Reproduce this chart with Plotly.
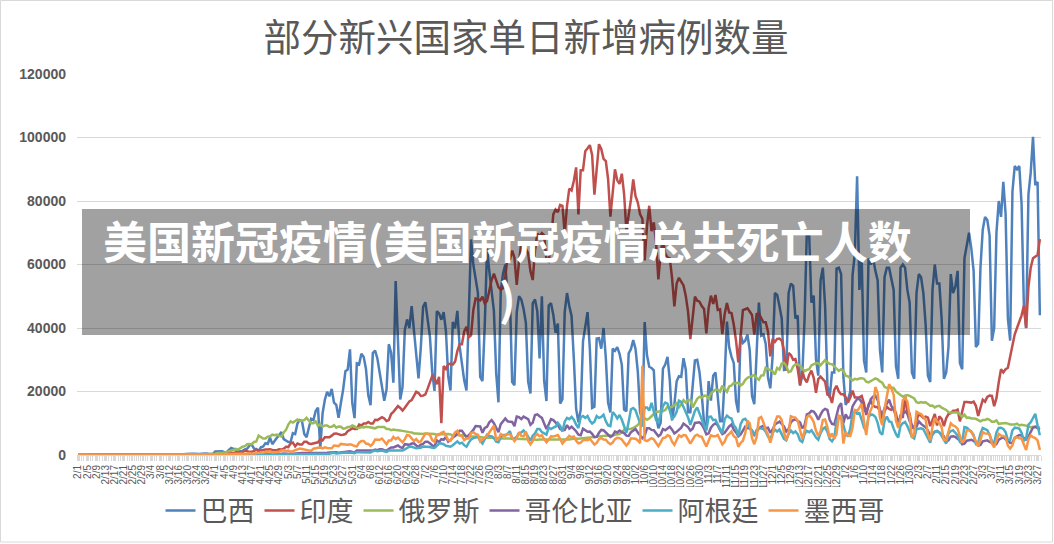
import datetime as dt
import plotly.graph_objects as go

# ---------------- data (daily new cases, in thousands) ----------------
start_date = dt.date(2020, 2, 1)
n_days = 422
dates = [start_date + dt.timedelta(days=i) for i in range(n_days)]
date_labels = [f"{d.month}/{d.day}" for d in dates]
tick_positions = list(range(0, n_days, 4))
tick_labels = [date_labels[i] for i in tick_positions]

series_names = ["巴西", "印度", "俄罗斯", "哥伦比亚", "阿根廷", "墨西哥"]
series_colors = ["#4F81BD", "#C0504D", "#9BBB59", "#8064A2", "#4BACC6", "#F79646"]

brazil_k = [
    0, 0, 0, 0, 0, 0, 0,
    0, 0, 0, 0, 0, 0, 0,
    0, 0, 0, 0, 0, 0, 0,
    0, 0, 0, 0, 0, 0, 0,
    0, 0, 0, 0, 0, 0, 0,
    0, 0, 0, 0, 0, 0, 0.1,
    0.1, 0, 0.1, 0.1, 0.2, 0.3, 0.4,
    0.3, 0.4, 0.4, 0.3, 0.3, 0.4, 0.5,
    0.5, 0.4, 0.3, 0.3, 1.1, 1.1, 1.1,
    1.2, 0.9, 0.9, 1.6, 2.2, 1.9, 1.9,
    1.1, 1.3, 1.3, 1.8, 2.0, 3.0, 3.3,
    2.0, 1.9, 1.3, 2.4, 2.7, 3.7, 3.5,
    5.5, 3.4, 4.6, 5.4, 6.3, 7.2, 5.0,
    4.6, 4.1, 4.1, 6.9, 6.6, 9.9, 11.0,
    10.6, 6.6, 5.6, 8.6, 11.4, 11.0, 13.9,
    14.9, 2.0, 13.1, 17.4, 19.9, 18.5, 20.8,
    16.5, 15.8, 11.7, 16.3, 20.6, 26.4, 26.9,
    33.3, 16.4, 11.6, 28.9, 28.6, 31.9, 30.9,
    27.1, 18.9, 15.7, 32.1, 32.9, 30.4, 25.9,
    21.7, 17.1, 20.6, 34.9, 32.2, 22.8, 54.8,
    34.7, 17.5, 21.4, 39.4, 42.7, 40.0, 46.9,
    38.7, 30.5, 24.1, 33.8, 46.7, 48.1, 42.2,
    37.3, 26.1, 20.2, 45.3, 44.6, 42.6, 45.0,
    39.0, 24.8, 20.3, 41.9, 39.9, 45.4, 34.2,
    28.5, 23.5, 20.3, 41.0, 67.9, 59.9, 55.9,
    51.1, 24.6, 23.3, 41.0, 65.0, 57.8, 52.4,
    45.4, 25.8, 16.6, 51.6, 57.2, 60.0, 50.2,
    49.9, 23.0, 22.0, 45.0, 50.0, 49.0, 46.0,
    41.6, 23.1, 19.4, 47.8, 49.0, 45.3, 30.4,
    50.0, 23.4, 17.0, 47.1, 47.8, 44.2, 38.5,
    41.4, 16.2, 17.6, 45.0, 51.0, 46.9, 43.8,
    30.2, 14.5, 10.3, 14.3, 35.8, 40.6, 45.0,
    33.5, 14.8, 15.2, 36.7, 36.8, 33.5, 40.0,
    30.5, 16.4, 13.4, 33.5, 32.8, 34.0, 31.9,
    28.4, 14.3, 13.8, 32.0, 33.4, 36.2, 33.4,
    26.3, 13.4, 11.6, 41.9, 31.5, 27.8, 27.4,
    26.7, 12.3, 8.4, 10.2, 27.2, 28.5, 30.9,
    23.5, 10.9, 15.8, 23.2, 24.8, 24.6, 30.5,
    26.9, 13.5, 13.5, 21.7, 29.8, 30.0, 26.1,
    18.9, 10.1, 8.5, 23.3, 17.1, 25.0, 26.0,
    19.0, 10.6, 10.6, 24.0, 42.0, 33.9, 31.0,
    29.0, 17.0, 13.4, 38.0, 35.3, 36.0, 37.9,
    33.0, 18.6, 16.0, 31.1, 48.0, 37.6, 38.0,
    35.0, 24.4, 21.0, 31.0, 51.0, 50.4, 46.9,
    43.0, 26.8, 27.0, 51.0, 54.0, 53.3, 43.0,
    43.9, 21.8, 25.0, 42.9, 70.6, 69.8, 48.0,
    50.2, 30.0, 25.0, 55.0, 59.0, 46.7, 22.0,
    18.0, 26.0, 26.0, 58.7, 59.0, 57.0, 24.5,
    15.8, 17.3, 20.0, 56.6, 63.4, 87.8, 52.0,
    62.0, 29.8, 26.0, 61.9, 60.0, 62.0, 58.0,
    55.0, 33.0, 26.0, 56.0, 59.0, 59.0, 56.0,
    52.0, 28.0, 24.0, 59.0, 60.0, 59.0, 52.0,
    48.0, 26.0, 24.0, 51.0, 57.0, 56.0, 51.0,
    41.0, 25.0, 23.0, 52.0, 60.0, 54.0, 54.0,
    43.0, 24.0, 26.0, 34.0, 57.0, 51.0, 53.0,
    58.0, 29.0, 27.0, 62.0, 66.0, 70.0, 65.0,
    58.0, 34.0, 35.0, 59.0, 71.0, 75.0, 74.0,
    69.0, 36.0, 40.0, 70.0, 80.0, 75.0, 86.0,
    76.0, 43.0, 36.0, 83.0, 91.0, 90.0, 91.0,
    79.0, 47.0, 40.0, 82.0, 89.0, 100.2, 85.0,
    86.0, 44.0,
]

india_k = [
    0, 0, 0, 0, 0, 0, 0,
    0, 0, 0, 0, 0, 0, 0,
    0, 0, 0, 0, 0, 0, 0,
    0, 0, 0, 0, 0, 0, 0,
    0, 0, 0, 0, 0, 0, 0,
    0, 0, 0, 0, 0, 0, 0,
    0, 0, 0, 0, 0, 0, 0.1,
    0.1, 0.1, 0.1, 0.1, 0.1, 0.1, 0.2,
    0.2, 0.1, 0.2, 0.3, 0.4, 0.5, 0.5,
    0.6, 0.5, 0.7, 0.6, 0.8, 0.6, 0.9,
    0.9, 0.8, 0.9, 1.4, 1.1, 1.0, 1.0,
    1.4, 1.6, 1.3, 1.5, 1.5, 1.7, 1.7,
    1.8, 1.6, 1.6, 1.5, 1.8, 1.7, 2.0,
    2.6, 2.5, 3.6, 3.9, 2.7, 3.6, 3.3,
    3.3, 4.2, 4.2, 3.6, 3.5, 3.7, 3.9,
    4.0, 5.0, 4.6, 5.6, 5.6, 5.6, 6.1,
    6.7, 6.8, 6.5, 6.3, 6.4, 6.6, 7.5,
    7.9, 8.4, 8.2, 8.2, 9.6, 9.3, 9.9,
    9.9, 10.4, 9.9, 9.9, 11.1, 11.0, 11.5,
    11.9, 11.5, 10.7, 11.0, 12.9, 13.6, 14.5,
    15.4, 14.8, 14.0, 14.9, 15.9, 16.9, 17.3,
    18.5, 19.9, 19.5, 18.6, 18.7, 19.1, 20.9,
    22.8, 24.9, 24.2, 22.3, 24.6, 10.0, 28.0,
    27.1, 28.6, 28.7, 28.5, 29.4, 32.7, 34.9,
    34.9, 38.9, 40.4, 37.1, 37.7, 45.7, 49.3,
    48.9, 48.7, 49.9, 47.7, 48.5, 52.1, 55.1,
    57.1, 54.7, 52.9, 52.1, 52.5, 56.3, 62.5,
    61.5, 64.4, 62.1, 53.6, 60.9, 66.9, 64.6,
    65.0, 63.5, 57.9, 55.1, 64.5, 69.7, 68.9,
    69.9, 69.2, 61.4, 60.9, 67.2, 75.8, 77.3,
    76.5, 78.8, 78.5, 69.9, 78.4, 83.9, 83.3,
    86.4, 90.6, 75.8, 89.7, 89.7, 95.7, 96.6,
    97.6, 94.5, 82.0, 90.0, 97.9, 96.4, 93.3,
    92.6, 86.9, 75.1, 83.3, 90.0, 86.5, 85.4,
    88.6, 82.2, 70.6, 75.0, 80.5, 86.8, 81.5,
    79.5, 75.8, 74.4, 61.3, 72.0, 78.5, 70.5,
    73.3, 66.7, 55.3, 63.5, 67.7, 63.4, 62.2,
    61.9, 55.7, 46.8, 54.0, 55.8, 54.4, 53.4,
    50.1, 45.1, 36.5, 43.9, 49.9, 48.6, 48.3,
    46.9, 46.0, 38.3, 46.3, 50.2, 47.6, 50.4,
    45.7, 45.9, 38.1, 44.3, 47.9, 44.9, 44.7,
    41.1, 36.0, 29.2, 38.6, 45.6, 45.9, 46.2,
    45.2, 44.1, 37.9, 44.4, 44.5, 43.1, 41.8,
    41.8, 38.8, 31.1, 36.6, 35.6, 36.6, 36.7,
    36.0, 32.9, 26.6, 32.1, 31.5, 30.0, 30.2,
    27.1, 22.1, 26.4, 24.0, 22.9, 25.2, 26.6,
    24.3, 19.6, 23.9, 24.7, 24.0, 23.1, 19.0,
    18.7, 16.4, 20.5, 21.8, 20.0, 19.1, 19.1,
    18.2, 16.5, 18.1, 20.3, 18.1, 18.1, 18.2,
    18.6, 16.3, 12.6, 15.9, 16.9, 15.6, 15.1,
    15.1, 13.8, 10.1, 13.8, 15.2, 14.5, 14.2,
    14.8, 13.2, 9.1, 12.7, 11.7, 18.9, 13.1,
    13.0, 8.6, 8.6, 11.0, 12.9, 12.4, 11.7,
    12.1, 11.8, 9.1, 11.1, 12.9, 9.3, 12.2,
    11.4, 9.1, 11.6, 12.9, 13.2, 13.9, 13.9,
    14.3, 10.6, 13.7, 16.7, 16.7, 16.6, 16.5,
    16.8, 15.5, 12.3, 14.9, 17.4, 16.8, 18.3,
    18.7, 18.6, 15.4, 17.9, 22.9, 27.0, 26.0,
    27.0, 27.5, 31.0, 35.0, 38.0, 40.0, 42.0,
    44.0, 47.0, 40.0, 53.0, 59.0, 62.0, 62.5,
    63.0, 68.0,
]

russia_k = [
    0, 0, 0, 0, 0, 0, 0,
    0, 0, 0, 0, 0, 0, 0,
    0, 0, 0, 0, 0, 0, 0,
    0, 0, 0, 0, 0, 0, 0,
    0, 0, 0, 0, 0, 0, 0,
    0, 0, 0, 0, 0, 0, 0,
    0, 0, 0, 0, 0, 0, 0.1,
    0.1, 0.1, 0.1, 0.1, 0.2, 0.2, 0.2,
    0.2, 0.3, 0.3, 0.5, 0.4, 0.6, 0.6,
    0.6, 0.7, 1.0, 1.2, 1.2, 1.5, 1.8,
    1.7, 2.2, 2.6, 2.8, 3.4, 3.5, 3.4,
    4.1, 4.3, 6.1, 5.6, 5.2, 5.2, 5.8,
    5.9, 6.4, 6.2, 6.4, 6.0, 5.8, 7.1,
    7.9, 9.6, 10.6, 10.2, 10.6, 11.2, 10.7,
    10.8, 11.0, 11.7, 10.9, 10.0, 10.0, 10.6,
    9.2, 9.7, 8.9, 9.3, 9.3, 8.8, 8.9,
    9.4, 8.6, 9.0, 8.9, 8.3, 8.4, 8.8,
    8.9, 9.3, 9.0, 8.5, 8.5, 8.8, 8.7,
    8.9, 8.8, 8.6, 8.6, 8.4, 8.8, 8.8,
    8.7, 8.8, 8.2, 8.2, 7.8, 8.0, 7.9,
    7.9, 7.7, 7.6, 7.4, 7.2, 7.2, 7.1,
    6.8, 6.8, 6.7, 6.6, 6.6, 6.8, 6.8,
    6.6, 6.7, 6.6, 6.4, 6.6, 6.5, 6.6,
    6.6, 6.6, 6.5, 6.2, 6.4, 6.4, 6.4,
    6.2, 6.1, 5.9, 5.8, 5.8, 5.9, 5.8,
    5.8, 5.6, 5.6, 5.4, 5.5, 5.5, 5.4,
    5.5, 5.4, 5.3, 5.2, 5.1, 5.2, 5.2,
    5.2, 5.1, 5.1, 5.0, 5.1, 5.1, 5.1,
    5.1, 5.0, 4.9, 4.8, 4.8, 4.8, 4.9,
    4.9, 4.9, 4.9, 4.7, 4.7, 4.7, 4.7,
    4.9, 4.9, 4.7, 4.7, 4.7, 4.9, 5.0,
    5.2, 5.2, 5.1, 5.2, 5.3, 5.4, 5.4,
    5.4, 5.5, 5.6, 5.8, 5.9, 5.9, 6.1,
    6.1, 6.1, 6.1, 6.2, 6.4, 6.6, 6.6,
    7.2, 7.9, 8.1, 8.1, 8.3, 8.5, 8.9,
    9.4, 10.5, 10.9, 11.6, 11.1, 11.5, 12.1,
    12.8, 13.6, 13.6, 13.9, 13.8, 14.2, 15.2,
    15.0, 15.2, 15.7, 16.3, 15.0, 15.9, 17.3,
    16.5, 17.3, 17.3, 15.0, 16.2, 17.7, 18.3,
    18.1, 18.7, 18.6, 17.7, 19.4, 20.0, 20.6,
    20.5, 20.0, 21.8, 20.9, 19.9, 21.6, 21.9,
    22.7, 22.6, 22.8, 21.9, 22.4, 23.6, 24.3,
    24.6, 24.8, 25.2, 24.3, 23.7, 25.0, 25.1,
    27.5, 27.0, 26.7, 26.4, 25.3, 27.4, 26.9,
    28.8, 29.0, 28.1, 26.1, 26.4, 27.9, 28.6,
    28.5, 28.1, 27.3, 26.4, 26.8, 27.0, 28.2,
    28.5, 29.0, 28.9, 28.3, 29.1, 29.9, 29.2,
    28.7, 28.6, 28.0, 27.2, 26.5, 27.0, 26.5,
    25.0, 24.8, 24.2, 23.5, 24.0, 23.8, 24.1,
    24.2, 24.0, 23.1, 22.9, 23.4, 23.7, 24.1,
    23.8, 23.2, 22.8, 21.5, 21.1, 21.3, 21.2,
    21.1, 20.0, 19.3, 18.9, 18.4, 18.7, 18.9,
    18.6, 18.3, 17.8, 16.6, 16.4, 16.7, 16.5,
    16.6, 16.1, 15.5, 15.6, 15.0, 15.4, 15.5,
    14.9, 14.6, 14.2, 13.5, 13.3, 13.4, 13.5,
    13.4, 12.8, 12.0, 12.7, 11.7, 11.8, 11.5,
    11.5, 11.4, 11.0, 10.6, 11.0, 11.0, 11.4,
    11.1, 10.5, 10.5, 10.9, 9.8, 9.9, 10.0,
    10.1, 9.9, 9.6, 9.6, 9.6, 9.9, 9.3,
    9.5, 9.4, 9.3, 9.1, 8.7, 8.9, 8.8,
    8.9, 8.6,
]

colombia_k = [
    0, 0, 0, 0, 0, 0, 0,
    0, 0, 0, 0, 0, 0, 0,
    0, 0, 0, 0, 0, 0, 0,
    0, 0, 0, 0, 0, 0, 0,
    0, 0, 0, 0, 0, 0, 0,
    0, 0, 0, 0, 0, 0, 0,
    0, 0, 0, 0, 0, 0, 0,
    0, 0, 0, 0, 0, 0, 0.1,
    0.1, 0.1, 0.1, 0.1, 0.1, 0.1, 0.1,
    0.1, 0.1, 0.1, 0.1, 0.2, 0.1, 0.2,
    0.1, 0.1, 0.1, 0.1, 0.2, 0.2, 0.2,
    0.2, 0.2, 0.2, 0.2, 0.3, 0.2, 0.3,
    0.3, 0.3, 0.2, 0.3, 0.3, 0.4, 0.5,
    0.4, 0.4, 0.3, 0.4, 0.5, 0.5, 0.6,
    0.6, 0.6, 0.5, 0.6, 0.6, 0.6, 0.6,
    0.5, 0.6, 0.6, 0.7, 0.7, 0.8, 0.9,
    0.8, 0.9, 0.7, 0.8, 0.9, 1.1, 1.3,
    1.2, 1.0, 0.8, 1.4, 1.4, 1.5, 1.4,
    1.4, 1.3, 1.3, 1.4, 1.7, 1.5, 1.8,
    1.8, 1.5, 1.4, 1.9, 2.4, 2.4, 2.6,
    3.0, 2.5, 2.2, 3.4, 3.2, 3.2, 3.6,
    3.7, 3.0, 2.6, 3.3, 3.5, 4.2, 4.2,
    3.7, 3.0, 2.7, 4.6, 4.0, 5.0, 4.8,
    5.7, 4.2, 4.7, 5.5, 6.0, 6.8, 7.6,
    7.6, 6.6, 5.6, 6.2, 7.0, 7.9, 9.1,
    9.1, 9.0, 7.0, 8.5, 8.9, 10.3, 11.0,
    10.0, 8.6, 7.2, 9.7, 10.5, 11.5, 10.6,
    10.5, 10.4, 9.1, 12.1, 11.9, 11.3, 12.1,
    11.7, 11.3, 9.5, 10.2, 12.6, 12.8, 12.2,
    11.7, 9.9, 8.2, 9.7, 11.3, 11.0, 10.4,
    9.5, 8.2, 7.9, 7.9, 9.4, 8.3, 8.9,
    8.2, 7.5, 6.4, 6.2, 8.3, 7.8, 7.3,
    7.4, 6.7, 5.6, 5.7, 7.0, 7.9, 7.8,
    7.0, 6.4, 5.7, 6.1, 7.4, 7.1, 7.7,
    7.2, 6.9, 6.1, 6.0, 7.2, 7.6, 8.2,
    7.1, 6.3, 5.3, 6.0, 8.4, 8.4, 7.9,
    7.8, 7.0, 5.9, 6.5, 8.2, 7.8, 8.5,
    8.9, 8.0, 6.8, 7.3, 8.0, 8.6, 9.9,
    9.3, 8.8, 7.7, 8.3, 10.1, 10.1, 10.3,
    9.6, 8.3, 6.5, 6.8, 8.6, 9.5, 10.0,
    9.3, 7.8, 6.6, 7.0, 8.2, 9.0, 9.6,
    8.0, 7.1, 5.9, 6.5, 7.8, 8.9, 8.5,
    8.3, 7.6, 6.3, 7.2, 8.4, 8.9, 9.2,
    8.4, 8.6, 7.0, 8.0, 9.6, 10.0, 10.5,
    9.8, 9.0, 7.4, 8.2, 10.3, 11.0, 11.2,
    10.6, 10.3, 8.4, 9.4, 12.8, 13.1, 13.9,
    13.7, 12.7, 11.1, 12.7, 14.0, 14.5, 14.2,
    11.1, 9.8, 9.6, 13.0, 15.3, 16.3, 10.0,
    12.8, 11.6, 11.8, 15.3, 16.6, 17.6, 17.7,
    16.6, 14.3, 13.5, 15.4, 17.6, 18.4, 18.7,
    17.3, 14.3, 12.4, 14.8, 16.2, 17.4, 15.4,
    14.4, 12.2, 10.4, 11.6, 13.0, 13.7, 13.0,
    10.6, 9.5, 8.3, 8.9, 10.6, 9.8, 9.3,
    8.7, 7.7, 6.2, 6.5, 7.3, 7.6, 7.1,
    6.6, 5.9, 4.2, 4.6, 5.8, 5.9, 5.7,
    5.2, 4.6, 3.4, 3.6, 4.5, 4.7, 4.8,
    4.4, 3.9, 3.0, 3.2, 4.3, 4.5, 4.6,
    4.1, 3.8, 3.0, 3.4, 4.8, 5.3, 5.6,
    4.9, 4.6, 3.8, 3.9, 5.4, 5.8, 6.3,
    6.1, 5.3, 4.9, 5.7, 7.3, 8.6, 8.9,
    8.4, 8.0,
]

argentina_k = [
    0, 0, 0, 0, 0, 0, 0,
    0, 0, 0, 0, 0, 0, 0,
    0, 0, 0, 0, 0, 0, 0,
    0, 0, 0, 0, 0, 0, 0,
    0, 0, 0, 0, 0, 0, 0,
    0, 0, 0, 0, 0, 0, 0,
    0, 0, 0, 0, 0, 0, 0,
    0, 0, 0, 0, 0, 0, 0.1,
    0.1, 0.1, 0.1, 0.1, 0.1, 0.1, 0.1,
    0.1, 0.1, 0.1, 0.1, 0.1, 0.1, 0.1,
    0.1, 0.1, 0.1, 0.1, 0.1, 0.1, 0.1,
    0.1, 0.1, 0.1, 0.1, 0.1, 0.1, 0.1,
    0.1, 0.1, 0.1, 0.1, 0.1, 0.2, 0.1,
    0.2, 0.1, 0.1, 0.2, 0.2, 0.2, 0.2,
    0.2, 0.2, 0.2, 0.2, 0.3, 0.3, 0.3,
    0.4, 0.4, 0.3, 0.5, 0.5, 0.4, 0.6,
    0.7, 0.5, 0.6, 0.6, 0.8, 0.8, 0.7,
    0.8, 0.7, 0.6, 0.9, 0.9, 0.9, 0.9,
    1.0, 0.8, 0.8, 1.2, 1.4, 1.2, 1.3,
    1.4, 1.2, 1.0, 1.4, 1.4, 1.4, 1.5,
    1.6, 1.4, 1.4, 1.8, 2.1, 2.6, 2.6,
    2.4, 2.1, 2.2, 2.3, 2.7, 2.7, 2.6,
    2.5, 2.3, 2.2, 2.9, 3.6, 3.6, 3.4,
    2.9, 2.7, 2.6, 3.1, 3.7, 4.3, 3.6,
    3.9, 3.1, 2.6, 3.9, 4.9, 5.3, 5.5,
    5.7, 4.5, 3.6, 5.0, 6.4, 6.0, 5.9,
    5.3, 4.2, 4.0, 5.6, 6.3, 6.3, 6.7,
    7.5, 5.2, 5.2, 5.7, 7.0, 7.1, 7.7,
    6.9, 5.9, 4.5, 6.1, 6.8, 8.2, 8.2,
    7.2, 6.9, 6.4, 8.7, 8.2, 8.6, 8.9,
    10.1, 9.2, 7.4, 10.5, 11.7, 11.3, 12.0,
    11.1, 9.6, 8.5, 11.9, 12.3, 11.7, 12.3,
    10.8, 9.9, 10.5, 12.3, 11.7, 12.0, 12.7,
    10.6, 9.3, 9.1, 13.5, 12.7, 11.5, 12.6,
    11.1, 9.3, 7.0, 10.5, 14.4, 14.8, 14.1,
    12.0, 10.0, 9.0, 15.0, 15.0, 14.0, 16.4,
    14.0, 11.0, 10.2, 12.9, 15.4, 16.5, 16.2,
    14.0, 11.4, 12.1, 13.6, 17.1, 16.7, 15.1,
    13.6, 11.8, 9.5, 11.7, 13.9, 15.0, 12.9,
    10.7, 9.3, 7.7, 12.0, 12.1, 11.0, 11.1,
    9.7, 8.3, 6.8, 11.2, 12.4, 11.8, 11.5,
    9.4, 8.5, 5.9, 9.7, 11.1, 11.4, 10.5,
    8.5, 7.8, 6.2, 7.9, 8.6, 8.3, 8.2,
    7.3, 5.8, 4.9, 6.9, 8.0, 7.4, 8.0,
    6.5, 5.1, 4.6, 6.6, 7.7, 6.9, 7.4,
    6.6, 4.6, 4.1, 6.6, 7.6, 7.2, 7.8,
    6.7, 5.5, 4.8, 6.9, 8.2, 8.7, 7.3,
    5.0, 4.3, 5.4, 10.6, 11.6, 12.2, 9.1,
    6.7, 5.8, 8.3, 13.1, 13.8, 13.0, 13.2,
    11.1, 8.7, 7.5, 12.0, 12.8, 12.6, 12.0,
    10.1, 7.1, 6.4, 10.7, 12.1, 10.6, 10.4,
    8.3, 6.6, 5.5, 9.2, 10.0, 10.4, 9.1,
    7.6, 5.7, 5.2, 8.2, 8.3, 8.4, 8.1,
    6.6, 5.0, 3.9, 6.6, 7.3, 7.5, 7.2,
    6.0, 4.6, 3.6, 6.8, 7.5, 7.8, 6.8,
    6.2, 4.1, 4.2, 8.8, 8.6, 8.0, 7.4,
    6.3, 3.5, 3.9, 6.7, 8.5, 8.1, 7.8,
    6.3, 4.4, 3.7, 7.1, 8.5, 8.6, 8.2,
    7.2, 4.7, 4.8, 7.8, 8.6, 8.5, 8.3,
    7.0, 4.4, 5.3, 9.6, 10.3, 11.7, 13.0,
    9.3, 6.2,
]

mexico_k = [
    0, 0, 0, 0, 0, 0, 0,
    0, 0, 0, 0, 0, 0, 0,
    0, 0, 0, 0, 0, 0, 0,
    0, 0, 0, 0, 0, 0, 0,
    0, 0, 0, 0, 0, 0, 0,
    0, 0, 0, 0, 0, 0, 0,
    0, 0, 0, 0, 0, 0, 0,
    0, 0.1, 0.1, 0.1, 0.1, 0.1, 0.1,
    0.1, 0.1, 0.1, 0.2, 0.2, 0.2, 0.2,
    0.2, 0.3, 0.2, 0.3, 0.3, 0.4, 0.4,
    0.4, 0.4, 0.3, 0.4, 0.4, 0.6, 0.4,
    0.5, 0.7, 0.8, 0.8, 0.7, 1.0, 1.0,
    1.2, 0.8, 0.9, 0.8, 1.0, 1.4, 1.5,
    1.3, 1.4, 1.0, 1.2, 1.4, 1.6, 2.0,
    1.9, 1.7, 1.6, 1.3, 1.3, 2.0, 2.1,
    2.4, 2.4, 2.1, 2.4, 2.2, 2.2, 2.1,
    3.0, 2.8, 2.8, 3.5, 3.5, 3.3, 3.2,
    3.4, 3.2, 2.8, 2.7, 3.9, 4.4, 4.4,
    3.6, 3.5, 2.9, 3.5, 4.9, 4.8, 4.8,
    5.2, 4.1, 3.4, 4.6, 4.6, 5.7, 5.0,
    5.5, 4.6, 4.0, 5.0, 6.3, 6.1, 5.4,
    4.4, 5.0, 4.1, 4.3, 5.7, 6.7, 6.7,
    6.3, 4.7, 4.2, 6.3, 6.3, 7.0, 7.3,
    6.1, 4.7, 4.5, 6.0, 7.1, 7.6, 6.1,
    6.0, 4.7, 5.2, 5.2, 6.9, 7.2, 6.6,
    6.4, 4.3, 4.8, 5.5, 6.1, 7.2, 8.5,
    9.2, 4.8, 5.0, 6.6, 6.1, 6.1, 6.6,
    6.5, 5.3, 4.4, 5.3, 7.1, 6.0, 5.9,
    7.4, 4.5, 3.4, 4.4, 6.0, 6.6, 5.9,
    6.2, 5.0, 4.0, 4.8, 5.9, 5.8, 6.1,
    6.3, 5.1, 3.6, 4.4, 5.1, 6.0, 5.6,
    5.8, 4.5, 3.7, 3.9, 4.6, 4.8, 4.7,
    5.1, 4.3, 3.3, 3.8, 5.0, 5.4, 4.9,
    4.8, 3.9, 3.4, 3.9, 5.0, 5.4, 5.3,
    4.9, 3.9, 3.0, 3.8, 5.2, 5.2, 5.1,
    4.6, 3.7, 28.1, 4.7, 4.4, 5.0, 5.3,
    4.9, 3.8, 2.8, 4.0, 5.3, 5.5, 6.2,
    5.9, 4.2, 3.2, 4.9, 6.2, 5.7, 6.3,
    6.2, 4.9, 3.6, 4.8, 6.0, 6.4, 5.9,
    5.7, 4.0, 2.7, 4.5, 6.2, 5.9, 5.9,
    6.3, 5.0, 3.3, 4.2, 6.0, 6.6, 7.4,
    5.9, 5.4, 2.6, 3.8, 4.5, 6.8, 10.8,
    10.0, 5.2, 3.4, 5.6, 11.6, 12.0, 10.3,
    7.9, 6.4, 3.9, 6.4, 10.2, 12.1, 12.1,
    11.0, 7.1, 4.6, 7.0, 12.2, 11.9, 11.8,
    10.8, 7.9, 5.1, 7.5, 11.9, 12.5, 11.7,
    10.4, 7.6, 6.0, 7.5, 11.0, 11.2, 8.8,
    5.4, 6.8, 5.2, 6.6, 12.4, 12.0, 3.6,
    7.3, 6.2, 6.0, 8.6, 14.2, 13.9, 14.9,
    16.1, 10.6, 6.3, 12.4, 14.4, 15.9, 21.4,
    19.5, 11.7, 9.4, 14.5, 18.7, 22.3, 21.0,
    19.0, 10.9, 8.5, 11.4, 17.2, 18.0, 16.9,
    12.2, 5.4, 6.5, 13.6, 13.2, 12.9, 12.0,
    11.1, 6.6, 4.6, 8.8, 11.6, 10.5, 10.2,
    8.7, 4.7, 4.8, 7.8, 10.0, 9.3, 9.0,
    8.2, 6.0, 3.8, 4.9, 7.8, 7.8, 7.2,
    6.0, 4.0, 2.7, 4.8, 7.2, 6.8, 6.6,
    6.6, 3.6, 2.4, 4.5, 6.6, 6.1, 6.0,
    5.6, 2.9, 2.0, 3.1, 5.4, 5.6, 5.3,
    5.2, 3.3, 1.6, 4.9, 6.2, 5.6, 5.3,
    4.6, 1.6,
]

series_values_k = [brazil_k, india_k, russia_k, colombia_k, argentina_k, mexico_k]

y_ticks = [0, 20000, 40000, 60000, 80000, 100000, 120000]

chart_title = "部分新兴国家单日新增病例数量"
banner_text = "美国新冠疫情(美国新冠疫情总共死亡人数<br>)"

# ---------------- figure ----------------
W, H = 1054, 544
L, R, T, B = 77, 13, 74, 89
pw, ph = W - L - R, H - T - B


def px_x(px):
    return (px - L) / pw


def px_y(py):
    return (H - B - py) / ph


fig = go.Figure()
for name, color, vals in zip(series_names, series_colors, series_values_k):
    fig.add_trace(go.Scatter(
        x=list(range(len(vals))),
        y=[v * 1000 for v in vals],
        mode="lines",
        name=name,
        line=dict(color=color, width=2.5),
        hoverinfo="skip",
    ))

grey_text = "#595959"
fig.update_layout(
    width=W, height=H,
    margin=dict(l=L, r=R, t=T, b=B, autoexpand=False),
    paper_bgcolor="white",
    plot_bgcolor="white",
    title=dict(
        text=chart_title,
        x=526 / W, xref="container", xanchor="center",
        y=1 - 38 / H, yref="container", yanchor="middle",
        font=dict(family="Noto Sans CJK SC", size=37.5, color=grey_text),
    ),
    legend=dict(
        orientation="h",
        x=525 / W, xref="container", xanchor="center",
        y=1 - 511 / H, yref="container", yanchor="middle",
        font=dict(family="Noto Sans CJK SC", size=27, color=grey_text),
        itemwidth=30,
        traceorder="normal",
    ),
    showlegend=True,
)

fig.update_xaxes(
    range=[-0.5, n_days - 0.5],
    tickmode="array",
    tickvals=tick_positions,
    ticktext=tick_labels,
    tickangle=-90,
    tickfont=dict(family="Liberation Sans", size=10, color=grey_text),
    showgrid=False,
    zeroline=False,
    showline=True,
    linecolor="#D9D9D9",
    linewidth=1,
    ticks="outside",
    ticklen=5,
    tickcolor="#D9D9D9",
    minor=dict(ticks="outside", ticklen=5, tickcolor="#D9D9D9", dtick=1, tick0=0.5),
    automargin=False,
)
fig.update_yaxes(
    range=[0, 120000],
    tickmode="array",
    tickvals=y_ticks,
    ticktext=[str(v) for v in y_ticks],
    tickfont=dict(family="Liberation Sans", size=14, color=grey_text, weight="bold"),
    showgrid=True,
    gridcolor="#D9D9D9",
    gridwidth=1,
    zeroline=False,
    showline=False,
    ticks="",
    ticklabelstandoff=10,
    automargin=False,
)

# semi-transparent banner overlaid on the chart
fig.add_shape(
    type="rect", xref="paper", yref="paper",
    x0=px_x(82), x1=px_x(970), y0=px_y(335), y1=px_y(209),
    fillcolor="rgba(0,0,0,0.37)", line=dict(width=0), layer="above",
)
fig.add_annotation(
    text=banner_text,
    xref="paper", yref="paper",
    x=px_x(507), y=px_y(268),
    xanchor="center", yanchor="middle",
    align="center",
    showarrow=False,
    font=dict(family="Noto Sans CJK SC", size=44, color="white", weight="bold"),
)
# chart-area border
fig.add_shape(
    type="rect", xref="paper", yref="paper",
    x0=px_x(0.5), x1=px_x(1052.5), y0=px_y(542), y1=px_y(0.5),
    line=dict(color="#D9D9D9", width=1), fillcolor="rgba(0,0,0,0)", layer="below",
)

fig.write_html("out.html")
